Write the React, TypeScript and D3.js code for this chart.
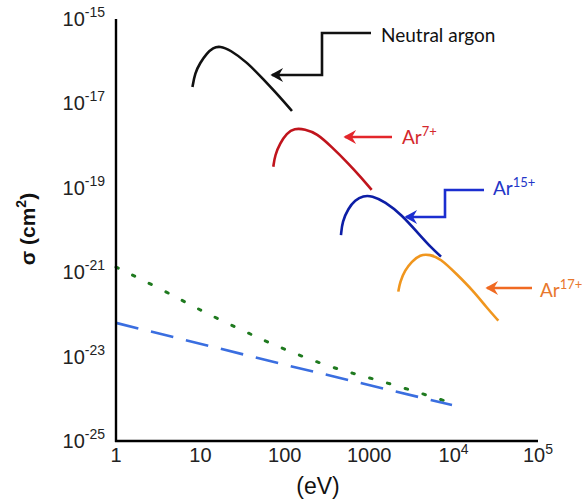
import React from "react";
import * as d3 from "d3";

const xTicks = [1, 10, 100, 1000, 1e4, 1e5];
const xTickLabels = [
  { base: "1", exp: "" },
  { base: "10", exp: "" },
  { base: "100", exp: "" },
  { base: "1000", exp: "" },
  { base: "10", exp: "4" },
  { base: "10", exp: "5" },
];
const yTicks = [1e-15, 1e-17, 1e-19, 1e-21, 1e-23, 1e-25];
const yTickExps = ["-15", "-17", "-19", "-21", "-23", "-25"];

const neutralE = [8.05, 8.63, 9.89, 11.97, 14.09, 17.06, 22.44, 35.6, 55.2, 87.7, 121.6];
const neutralS = [2.45e-17, 5.25e-17, 9.1e-17, 1.55e-16, 2.09e-16, 2.29e-16, 1.86e-16, 9.5e-17, 3.8e-17, 1.41e-17, 6.6e-18];

const ar7E = [73.1, 76.6, 87.7, 105.2, 129.7, 173.4, 238.8, 359.7, 565, 815, 1069];
const ar7S = [3.16e-19, 6.0e-19, 1.12e-18, 1.95e-18, 2.57e-18, 2.45e-18, 1.95e-18, 9.3e-19, 3.8e-19, 1.7e-19, 8.9e-20];

const ar15E = [463, 480, 565, 679, 851, 1072, 1538, 2427, 3819, 5508, 7096];
const ar15S = [7.6e-21, 1.58e-20, 3.24e-20, 5.1e-20, 6.5e-20, 6.5e-20, 4.7e-20, 2.29e-20, 8.3e-21, 3.7e-21, 2.34e-21];

const ar17E = [2213, 2317, 2655, 3192, 4000, 5248, 6902, 10890, 17100, 24660, 33880];
const ar17S = [3.47e-22, 5.9e-22, 1.12e-21, 1.78e-21, 2.63e-21, 2.63e-21, 2.14e-21, 9.0e-22, 3.6e-22, 1.45e-22, 7.1e-23];

const dottedE = [1, 3.6, 9.9, 27.2, 61.5, 164, 451, 1109, 3304, 9572];
const dottedS = [1.32e-21, 3.8e-22, 1.26e-22, 4.8e-23, 2.24e-23, 9.8e-24, 4.8e-24, 3.0e-24, 1.55e-24, 7.9e-25];

const dashedE = [1, 115, 9572];
const dashedS = [6.3e-23, 6.0e-24, 7.1e-25];

const W = 582;
const H = 502;
const AX = { left: 116, right: 538, top: 19, bottom: 441 };

export default function App() {
  const x = d3.scaleLog().domain([1, 1e5]).range([AX.left, AX.right]);
  const y = d3.scaleLog().domain([1e-25, 1e-15]).range([AX.bottom, AX.top]);

  const smooth = d3
    .line<[number, number]>()
    .x((d) => x(d[0]))
    .y((d) => y(d[1]))
    .curve(d3.curveBasis);
  const straight = d3
    .line<[number, number]>()
    .x((d) => x(d[0]))
    .y((d) => y(d[1]));

  const zip = (a: number[], b: number[]) => a.map((v, i) => [v, b[i]] as [number, number]);

  const curves = [
    { e: neutralE, s: neutralS, color: "#111111" },
    { e: ar7E, s: ar7S, color: "#c0141c" },
    { e: ar15E, s: ar15S, color: "#0d1ea6" },
    { e: ar17E, s: ar17S, color: "#f0961e" },
  ];

  const arrow = (pts: [number, number][], color: string, key: string) => {
    const [tx, ty] = pts[0];
    return (
      <g key={key}>
        <polyline
          points={pts.map((p) => p.join(",")).join(" ")}
          fill="none"
          stroke={color}
          strokeWidth={2.6}
        />
        <path
          d={`M${tx},${ty} L${tx + 9},${ty - 5} L${tx + 6},${ty} L${tx + 9},${ty + 5} Z`}
          fill={color}
          stroke={color}
          strokeWidth={1.5}
          strokeLinejoin="miter"
        />
      </g>
    );
  };

  const annFont = "Lato, 'Open Sans', sans-serif";

  return (
    <div style={{ position: "absolute", left: 0, top: 0 }}>
      <svg width={W} height={H} style={{ display: "block", background: "#fff" }}>
        <path
          d={smooth(zip(dottedE, dottedS)) || ""}
          fill="none"
          stroke="#1f7a1f"
          strokeWidth={3}
          strokeDasharray="2.5 16"
          strokeLinecap="round"
        />
        <path
          d={straight(zip(dashedE, dashedS)) || ""}
          fill="none"
          stroke="#3a6ee0"
          strokeWidth={2.6}
          strokeDasharray="23 13"
        />

        {curves.map((c, i) => (
          <path
            key={i}
            d={smooth(zip(c.e, c.s)) || ""}
            fill="none"
            stroke={c.color}
            strokeWidth={2.6}
            strokeLinejoin="round"
          />
        ))}

        <line x1={AX.left} y1={AX.top} x2={AX.left} y2={AX.bottom + 1} stroke="#000" strokeWidth={2.4} />
        <line x1={AX.left - 1} y1={AX.bottom} x2={AX.right} y2={AX.bottom} stroke="#000" strokeWidth={2.4} />

        {xTicks.map((t, i) => (
          <text
            key={i}
            x={x(t)}
            y={462}
            textAnchor="middle"
            fontFamily="'Liberation Sans', Arial, sans-serif"
            fontSize={20}
            fill="#222"
          >
            <tspan>{xTickLabels[i].base}</tspan>
            {xTickLabels[i].exp && (
              <tspan dy={-8} fontSize={14}>
                {xTickLabels[i].exp}
              </tspan>
            )}
          </text>
        ))}

        {yTicks.map((t, i) => (
          <text
            key={i}
            x={105}
            y={y(t) + 7}
            textAnchor="end"
            fontFamily="'Liberation Sans', Arial, sans-serif"
            fontSize={20}
            fill="#222"
          >
            <tspan>10</tspan>
            <tspan dy={-9} fontSize={14}>
              {yTickExps[i]}
            </tspan>
          </text>
        ))}

        <text
          x={318}
          y={494}
          textAnchor="middle"
          fontFamily="'Liberation Sans', Arial, sans-serif"
          fontSize={23}
          fill="#111"
        >
          (eV)
        </text>
        <text
          transform="translate(35,229) rotate(-90)"
          textAnchor="middle"
          fontFamily="'Liberation Sans', Arial, sans-serif"
          fontSize={21}
          fontWeight="bold"
          fill="#111"
        >
          <tspan>σ (cm</tspan>
          <tspan dy={-9} fontSize={14}>2</tspan>
          <tspan dy={9}>)</tspan>
        </text>

        {arrow([[272, 75], [322, 75], [322, 33], [371, 33]], "#111111", "a0")}
        {arrow([[345, 137], [392, 137]], "#e3262b", "a1")}
        {arrow([[406, 217], [445, 217], [445, 190], [484, 190]], "#1b2ed0", "a2")}
        {arrow([[487, 288], [532, 288]], "#f06a22", "a3")}

        <text x={381} y={42} fontFamily={annFont} fontSize={19} fill="#111">
          Neutral argon
        </text>
        <text x={402} y={144} fontFamily={annFont} fontSize={19} fill="#d4282c">
          <tspan>Ar</tspan>
          <tspan dy={-8} fontSize={13}>7+</tspan>
        </text>
        <text x={493} y={195} fontFamily={annFont} fontSize={19} fill="#2436c8">
          <tspan>Ar</tspan>
          <tspan dy={-8} fontSize={13}>15+</tspan>
        </text>
        <text x={540} y={297} fontFamily={annFont} fontSize={19} fill="#e8782d">
          <tspan>Ar</tspan>
          <tspan dy={-8} fontSize={13}>17+</tspan>
        </text>
      </svg>
    </div>
  );
}
